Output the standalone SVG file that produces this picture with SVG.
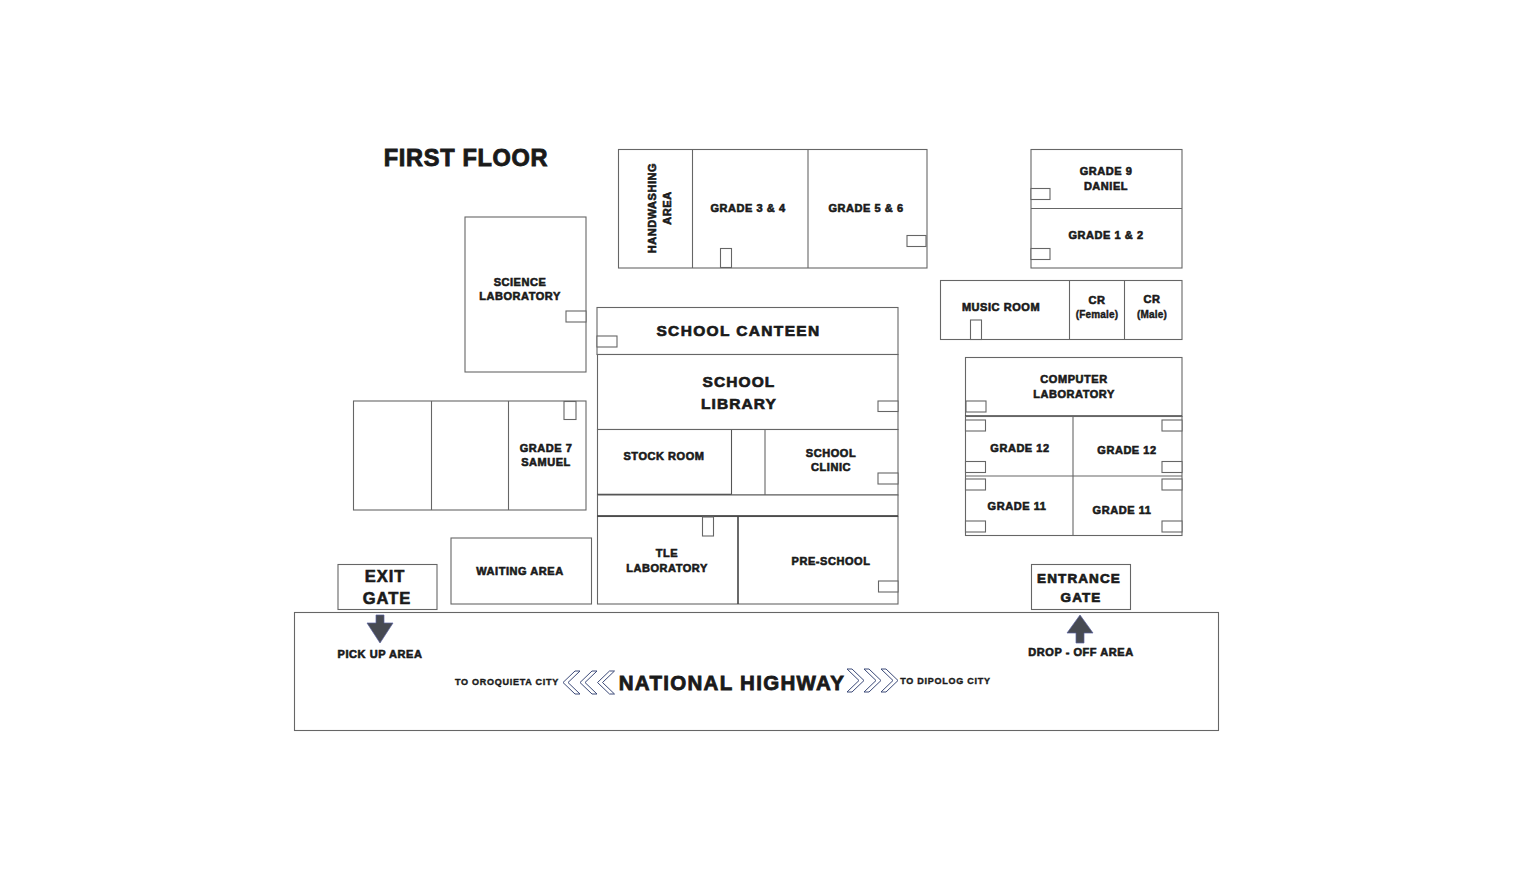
<svg xmlns="http://www.w3.org/2000/svg" width="1516" height="872" viewBox="0 0 1516 872">
<style>
rect,line,.w{fill:#fff;stroke:#666;stroke-width:1.1}
line{stroke:#666}
.d{stroke:#555}
.k{stroke:#444;stroke-width:1.6}
text{font-family:"Liberation Sans",Arial,sans-serif;font-weight:700;fill:#1a1a1a;stroke:#1a1a1a;stroke-width:.6;text-anchor:middle;letter-spacing:.55px}
.s{font-size:11px}
.m{font-size:16.5px;letter-spacing:1px}
.l{font-size:15.5px;letter-spacing:1.1px;stroke-width:.7}
.e{font-size:13.5px;letter-spacing:1.1px;stroke-width:.7}
.t{font-size:9px;letter-spacing:.75px;stroke-width:.4}
.c{font-size:10px;letter-spacing:.2px;stroke-width:.4}
.h{fill:none;stroke:#3c4a78;stroke-width:1}
.a{fill:#474a52;stroke:#5a62a0;stroke-width:.7}
</style>
<rect width="1516" height="872" style="fill:#fff;stroke:none"/>
<g id="title"><text x="466" y="166" style="font-size:23.5px;stroke-width:.9;letter-spacing:.7px">FIRST FLOOR</text></g>
<g id="highway">
<rect x="294.500" y="612.500" width="924" height="118"/>
<text x="732" y="690" style="font-size:20.500px;letter-spacing:1.300px;stroke-width:.8">NATIONAL HIGHWAY</text>
<text class="t" x="507" y="685">TO OROQUIETA CITY</text>
<text class="t" x="945.500" y="684">TO DIPOLOG CITY</text>
<g class="h">
<path d="M580 671h-5l-12 11.500 12 11.500h5l-12-11.500z"/><path d="M597 671h-5l-12 11.500 12 11.500h5l-12-11.500z"/><path d="M614.500 671h-5l-12 11.500 12 11.500h5l-12-11.500z"/>
<path d="M847 669h5l12 11.500-12 11.500h-5l12-11.500z"/><path d="M864 669h5l12 11.500-12 11.500h-5l12-11.500z"/><path d="M881 669h5l12 11.500-12 11.500h-5l12-11.500z"/>
</g>
</g>
<g id="exit-gate"><rect x="338" y="564.500" width="99" height="45"/><text class="m" x="385" y="582">EXIT</text><text class="m" x="387" y="604">GATE</text></g>
<g id="pick-up"><path class="a" d="M376 615h8v8h9l-13 20-13-20h9z"/><text class="s" x="380" y="658">PICK UP AREA</text></g>
<g id="entrance-gate"><rect x="1031.500" y="564.500" width="99" height="45"/><text class="e" x="1079" y="583">ENTRANCE</text><text class="e" x="1081" y="602">GATE</text></g>
<g id="drop-off"><path class="a" d="M1080 615l13 18h-9v10h-8v-10h-9z"/><text class="s" x="1081" y="656">DROP - OFF AREA</text></g>
<g id="waiting-area"><rect x="451" y="538" width="140.500" height="66"/><text class="s" x="520" y="575">WAITING AREA</text></g>
<g id="science-lab"><rect x="465" y="217" width="121" height="155"/><rect x="566" y="311" width="20" height="11"/><text class="s" x="520" y="286">SCIENCE</text><text class="s" x="520" y="300">LABORATORY</text></g>
<g id="grade-7-wing"><rect x="353.500" y="401" width="232.500" height="109"/><line x1="431.500" y1="401" x2="431.500" y2="510"/><line x1="508.500" y1="401" x2="508.500" y2="510"/><rect x="564" y="401.500" width="12" height="18"/><text class="s" x="546" y="452">GRADE 7</text><text class="s" x="546" y="466">SAMUEL</text></g>
<g id="north-wing"><rect x="618.500" y="149.500" width="308.500" height="118.500"/><line x1="692.500" y1="149" x2="692.500" y2="268"/><line x1="808" y1="149" x2="808" y2="268"/><rect x="720.500" y="248.500" width="11" height="19"/><rect x="907" y="235.500" width="19" height="11"/>
<text class="s" transform="translate(656 208) rotate(-90)">HANDWASHING</text><text class="s" transform="translate(671 208) rotate(-90)">AREA</text><text class="s" x="748" y="212">GRADE 3 &amp; 4</text><text class="s" x="866" y="212">GRADE 5 &amp; 6</text></g>
<g id="grade-9-1-2"><rect x="1031" y="149.500" width="151" height="118.500"/><line x1="1031" y1="208.500" x2="1182" y2="208.500"/><rect x="1031" y="188.500" width="19" height="11"/><rect x="1031" y="248.500" width="19" height="11"/><text class="s" x="1106" y="175">GRADE 9</text><text class="s" x="1106" y="190">DANIEL</text><text class="s" x="1106" y="239">GRADE 1 &amp; 2</text></g>
<g id="music-cr"><rect x="940.500" y="280.500" width="241.500" height="59"/><line x1="1069.500" y1="280" x2="1069.500" y2="340"/><line x1="1124.500" y1="280" x2="1124.500" y2="340"/><rect x="970.500" y="320" width="11" height="19.500"/><text class="s" x="1001" y="311">MUSIC ROOM</text><text class="s" x="1097" y="304">CR</text><text class="c" x="1097" y="318">(Female)</text><text class="s" x="1152" y="303">CR</text><text class="c" x="1152" y="318">(Male)</text></g>
<g id="computer-lab"><rect x="965.500" y="357.500" width="216.500" height="59"/><rect x="966" y="401" width="20" height="11"/><line class="k" x1="965" y1="416" x2="1182" y2="416"/><text class="s" x="1074" y="383">COMPUTER</text><text class="s" x="1074" y="398">LABORATORY</text></g>
<g id="grades-11-12"><rect x="965.500" y="416.500" width="216.500" height="119"/><line x1="1073" y1="416" x2="1073" y2="535"/><line x1="965" y1="476" x2="1182" y2="476"/>
<rect x="965.500" y="420" width="20" height="11"/><rect x="965.500" y="461.500" width="20" height="11"/><rect x="965.500" y="479" width="20" height="11"/><rect x="965.500" y="521" width="20" height="11"/><rect x="1162" y="420" width="20" height="11"/><rect x="1162" y="461.500" width="20" height="11"/><rect x="1162" y="479" width="20" height="11"/><rect x="1162" y="521" width="20" height="11"/>
<text class="s" x="1020" y="452">GRADE 12</text><text class="s" x="1127" y="454">GRADE 12</text><text class="s" x="1017" y="510">GRADE 11</text><text class="s" x="1122" y="514">GRADE 11</text></g>
<g id="school-canteen"><rect x="597" y="307.500" width="301" height="47"/><rect x="597" y="336" width="20" height="11"/><text class="l" x="738.500" y="336" style="letter-spacing:1.350px">SCHOOL CANTEEN</text></g>
<g id="school-library"><rect x="597.500" y="354.500" width="300.500" height="75"/><rect x="878" y="401" width="20" height="10.500"/><text class="l" x="739" y="387">SCHOOL</text><text class="l" x="739" y="409">LIBRARY</text></g>
<g id="clinic-row"><rect x="597.500" y="429.500" width="300.500" height="65.500"/><line class="d" x1="731.500" y1="430" x2="731.500" y2="495"/><line class="k" x1="597" y1="494.500" x2="731" y2="494.500"/><line x1="765" y1="430" x2="765" y2="495"/><rect x="878" y="473" width="20" height="11"/><text class="s" x="664" y="460">STOCK ROOM</text><text class="s" x="831" y="457">SCHOOL</text><text class="s" x="831" y="471">CLINIC</text></g>
<g id="corridor"><rect x="597.500" y="495" width="300.500" height="21"/></g>
<g id="tle-preschool"><rect x="597.500" y="516.500" width="300.500" height="87.500"/><line class="k" x1="597" y1="516" x2="898" y2="516"/><line class="k" x1="738" y1="516" x2="738" y2="604"/><rect x="702.500" y="517" width="11" height="19"/><rect x="878.500" y="581" width="19.500" height="11"/><text class="s" x="667" y="557">TLE</text><text class="s" x="667" y="572">LABORATORY</text><text class="s" x="831" y="565">PRE-SCHOOL</text></g>
</svg>
